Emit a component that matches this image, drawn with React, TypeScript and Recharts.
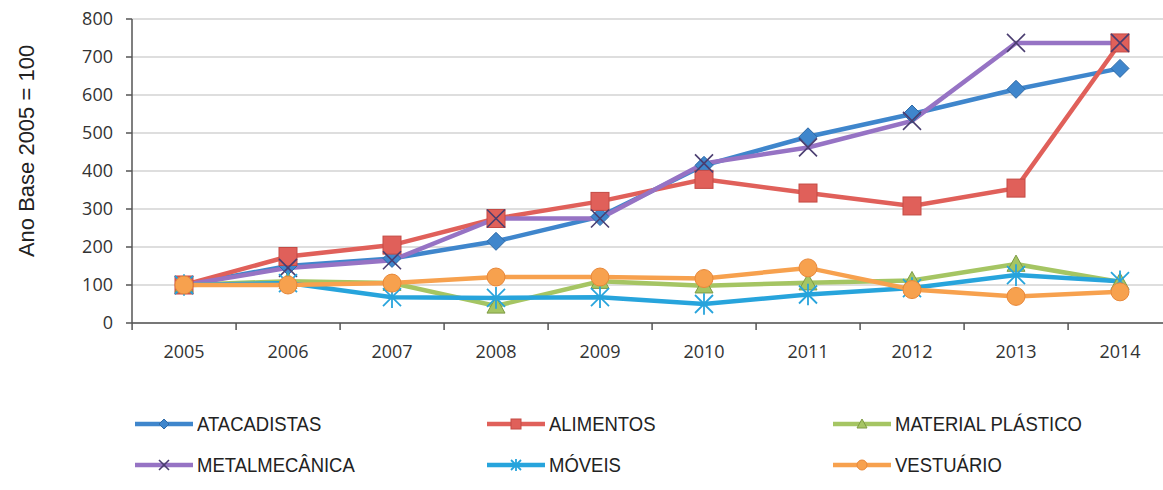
import React from "react";
import { LineChart, Line, XAxis, YAxis, CartesianGrid, Legend } from "recharts";

const years = [2005, 2006, 2007, 2008, 2009, 2010, 2011, 2012, 2013, 2014];
const yTicks = [0, 100, 200, 300, 400, 500, 600, 700, 800];

const atacadistas = [100, 150, 170, 215, 280, 415, 490, 550, 615, 670];
const alimentos = [100, 175, 205, 275, 320, 378, 342, 308, 355, 737];
const materialPlastico = [100, 110, 105, 45, 110, 98, 106, 112, 155, 108];
const metalmecanica = [100, 145, 165, 275, 275, 420, 462, 532, 737, 737];
const moveis = [100, 105, 68, 66, 68, 50, 75, 92, 126, 110];
const vestuario = [100, 100, 105, 121, 121, 117, 145, 88, 70, 82];

type Shape = "diamond" | "square" | "triangle" | "x" | "star" | "circle";

const series: { key: string; name: string; color: string; shape: Shape; values: number[] }[] = [
  { key: "atac", name: "ATACADISTAS", color: "#3f86cc", shape: "diamond", values: atacadistas },
  { key: "alim", name: "ALIMENTOS", color: "#e0605a", shape: "square", values: alimentos },
  { key: "mat", name: "MATERIAL PLÁSTICO", color: "#a5c563", shape: "triangle", values: materialPlastico },
  { key: "metal", name: "METALMECÂNICA", color: "#9673c4", shape: "x", values: metalmecanica },
  { key: "mov", name: "MÓVEIS", color: "#27a4dc", shape: "star", values: moveis },
  { key: "vest", name: "VESTUÁRIO", color: "#f7a14e", shape: "circle", values: vestuario },
];

const data = years.map((year, i) => {
  const row: Record<string, number> = { year };
  series.forEach((s) => (row[s.key] = s.values[i]));
  return row;
});

function Marker({ shape, color, cx, cy, s }: { shape: Shape; color: string; cx: number; cy: number; s: number }) {
  switch (shape) {
    case "diamond":
      return <polygon points={`${cx},${cy - s} ${cx + s},${cy} ${cx},${cy + s} ${cx - s},${cy}`} fill={color} stroke="#2f6aa6" strokeWidth={1} />;
    case "square":
      return <rect x={cx - s} y={cy - s} width={s * 2} height={s * 2} fill={color} stroke="#c44a44" strokeWidth={1} />;
    case "triangle":
      return <polygon points={`${cx},${cy - s} ${cx + s},${cy + s * 0.8} ${cx - s},${cy + s * 0.8}`} fill={color} stroke="#7e9a44" strokeWidth={1} />;
    case "x":
      return (
        <g stroke="#4a3d70" strokeWidth={1.6}>
          <line x1={cx - s} y1={cy - s} x2={cx + s} y2={cy + s} />
          <line x1={cx - s} y1={cy + s} x2={cx + s} y2={cy - s} />
        </g>
      );
    case "star":
      return (
        <g stroke={color} strokeWidth={1.8}>
          <line x1={cx - s} y1={cy - s} x2={cx + s} y2={cy + s} />
          <line x1={cx - s} y1={cy + s} x2={cx + s} y2={cy - s} />
          <line x1={cx} y1={cy - s * 1.2} x2={cx} y2={cy + s * 1.2} />
        </g>
      );
    default:
      return <circle cx={cx} cy={cy} r={s} fill={color} stroke="#e8883a" strokeWidth={1} />;
  }
}

const makeDot = (shape: Shape, color: string) => (props: any) => {
  const { cx, cy, index } = props;
  if (cx == null || cy == null) return <g key={index} />;
  return (
    <g key={index}>
      <Marker shape={shape} color={color} cx={cx} cy={cy} s={9} />
    </g>
  );
};

const FONT = "'Liberation Sans', Arial, sans-serif";
const TICK_FONT = "'Open Sans', sans-serif";
const TICK_COLOR = "#333";

// Excel-style category axis: label in the middle, tick marks between categories
const XTick = (props: any) => {
  const { x, y, payload, index } = props;
  const half = 51.9;
  return (
    <g>
      <line x1={x - half} y1={y - 8} x2={x - half} y2={y - 1} stroke="#555" strokeWidth={1.5} />
      {index === years.length - 1 && (
        <line x1={x + half} y1={y - 8} x2={x + half} y2={y - 1} stroke="#555" strokeWidth={1.5} />
      )}
      <text x={x} y={y + 27} textAnchor="middle" fill={TICK_COLOR} fontSize={18} fontFamily={TICK_FONT}>
        {payload.value}
      </text>
    </g>
  );
};

const LegendContent = () => (
  <div
    style={{
      display: "grid",
      gridTemplateColumns: "352px 346px auto",
      rowGap: 15,
      paddingLeft: 135,
      fontFamily: FONT,
      fontSize: 21,
      color: "#222",
    }}
  >
    {series.map((s) => (
      <div key={s.key} style={{ display: "flex", alignItems: "center", height: 26, whiteSpace: "nowrap" }}>
        <svg width={58} height={20} style={{ flex: "none" }}>
          <line x1={0} y1={10} x2={58} y2={10} stroke={s.color} strokeWidth={4.5} />
          <Marker shape={s.shape} color={s.color} cx={29} cy={10} s={5} />
        </svg>
        <span style={{ marginLeft: 4, display: "inline-block", transform: "scaleX(0.88)", transformOrigin: "left center" }}>
          {s.name}
        </span>
      </div>
    ))}
  </div>
);

export default function App() {
  return (
    <div style={{ position: "fixed", left: 0, top: 0, width: 1163, height: 490, overflow: "hidden", background: "#fff" }}>
      <LineChart width={1172} height={490} data={data} margin={{ top: 19, right: 0, left: 0, bottom: 70 }}>
        <CartesianGrid horizontal vertical={false} stroke="#bdbdbd" strokeWidth={1.2} />
        <XAxis
          dataKey="year"
          type="number"
          domain={[2004.5, 2014.5]}
          ticks={years}
          interval={0}
          height={30}
          tickLine={false}
          axisLine={{ stroke: "#555", strokeWidth: 1.5 }}
          tick={<XTick />}
        />
        <YAxis
          width={132}
          domain={[0, 800]}
          ticks={yTicks}
          interval={0}
          tickSize={6}
          tickMargin={13}
          tickLine={{ stroke: "#555", strokeWidth: 1.5 }}
          axisLine={{ stroke: "#555", strokeWidth: 1.5 }}
          tick={{ fill: TICK_COLOR, fontSize: 18, fontFamily: TICK_FONT }}
          label={{
            content: () => (
              <text
                x={34}
                y={151}
                transform="rotate(-90 34 151)"
                textAnchor="middle"
                fill="#222"
                fontSize={22}
                fontFamily={FONT}
              >
                Ano Base 2005 = 100
              </text>
            ),
          }}
        />
        <Legend
          content={<LegendContent />}
          wrapperStyle={{ position: "absolute", top: 411, left: 0, width: 1163 }}
        />
        {series.map((s) => (
          <Line
            key={s.key}
            dataKey={s.key}
            name={s.name}
            stroke={s.color}
            strokeWidth={4.5}
            type="linear"
            dot={makeDot(s.shape, s.color)}
            activeDot={false}
            isAnimationActive={false}
          />
        ))}
      </LineChart>
    </div>
  );
}
